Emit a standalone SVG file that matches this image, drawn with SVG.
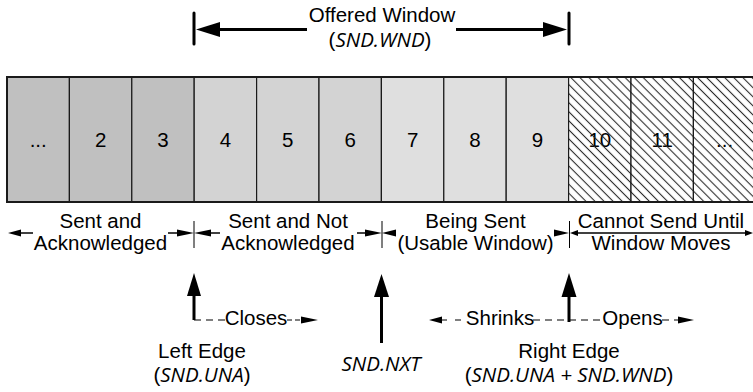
<svg xmlns="http://www.w3.org/2000/svg" width="753" height="392" viewBox="0 0 753 392">
<style>
.lbl{font-family:"Liberation Sans",Arial,sans-serif;font-size:20.5px;fill:#000;text-anchor:middle}
.num{font-family:"Liberation Sans",Arial,sans-serif;font-size:20.5px;fill:#000;text-anchor:middle}
.it{font-family:"Open Sans",sans-serif;font-style:italic}
.cell{stroke:#1a1a1a;stroke-width:1.2}
.dark{fill:#c0c0c0}
.mid{fill:#d3d3d3}
.light{fill:#dfdfdf}
.free{fill:#fff}
.hat{fill:url(#hatch)}
.thin{stroke:#000;stroke-width:1.5;fill:none}
.tick{stroke:#000;stroke-width:1;fill:none}
.thick{stroke:#000;stroke-width:3;fill:none}
.dash{stroke:#000;stroke-width:1.2;stroke-dasharray:7 5;fill:none}
.head{fill:#000;stroke:none}
</style>
<defs>
<pattern id="hatch" width="6.4" height="6.4" patternUnits="userSpaceOnUse" patternTransform="rotate(-45)">
<line x1="3.2" y1="0" x2="3.2" y2="6.4" stroke="#2a2a2a" stroke-width="1.1"/>
</pattern>
</defs>

<rect x="0" y="0" width="753" height="392" fill="#fff"/>

<g id="cell-1"><rect class="cell dark" x="7" y="77" width="62.4" height="125"/><text class="num" x="38.2" y="147">...</text></g>
<g id="cell-2"><rect class="cell dark" x="69.4" y="77" width="62.4" height="125"/><text class="num" x="100.6" y="147">2</text></g>
<g id="cell-3"><rect class="cell dark" x="131.8" y="77" width="62.4" height="125"/><text class="num" x="163" y="147">3</text></g>
<g id="cell-4"><rect class="cell mid" x="194.2" y="77" width="62.4" height="125"/><text class="num" x="225.4" y="147">4</text></g>
<g id="cell-5"><rect class="cell mid" x="256.6" y="77" width="62.4" height="125"/><text class="num" x="287.8" y="147">5</text></g>
<g id="cell-6"><rect class="cell mid" x="319" y="77" width="62.4" height="125"/><text class="num" x="350.2" y="147">6</text></g>
<g id="cell-7"><rect class="cell light" x="381.4" y="77" width="62.4" height="125"/><text class="num" x="412.6" y="147">7</text></g>
<g id="cell-8"><rect class="cell light" x="443.8" y="77" width="62.4" height="125"/><text class="num" x="475" y="147">8</text></g>
<g id="cell-9"><rect class="cell light" x="506.2" y="77" width="62.4" height="125"/><text class="num" x="537.4" y="147">9</text></g>
<g id="cell-10"><rect class="free" x="568.6" y="77" width="62.4" height="125"/><text class="num" x="599.8" y="147">10</text><rect class="cell hat" x="568.6" y="77" width="62.4" height="125"/></g>
<g id="cell-11"><rect class="free" x="631" y="77" width="62.4" height="125"/><text class="num" x="662.2" y="147">11</text><rect class="cell hat" x="631" y="77" width="62.4" height="125"/></g>
<g id="cell-12"><rect class="free" x="693.4" y="77" width="62.4" height="125"/><text class="num" x="724.6" y="147">...</text><rect class="cell hat" x="693.4" y="77" width="62.4" height="125"/></g>
<rect x="7" y="77" width="760" height="125" fill="none" stroke="#1a1a1a" stroke-width="2"/>

<g id="offered-window">
<text class="lbl" x="382" y="22">Offered Window</text>
<text class="lbl" x="380" y="47">(<tspan class="it">SND.WND</tspan>)</text>
</g>

<g id="sent-acked"><text class="lbl" x="100.5" y="228">Sent and</text><text class="lbl" x="100.5" y="250">Acknowledged</text></g>
<g id="sent-not-acked"><text class="lbl" x="288" y="228">Sent and Not</text><text class="lbl" x="288" y="250">Acknowledged</text></g>
<g id="being-sent"><text class="lbl" x="475.5" y="228">Being Sent</text><text class="lbl" x="475.5" y="250">(Usable Window)</text></g>
<g id="cannot-send"><text class="lbl" x="661" y="228">Cannot Send Until</text><text class="lbl" x="661" y="250">Window Moves</text></g>

<g id="left-edge"><text class="lbl" x="202" y="358">Left Edge</text><text class="lbl" x="202" y="382">(<tspan class="it">SND.UNA</tspan>)</text></g>
<g id="snd-nxt"><text class="lbl it" x="381" y="371">SND.NXT</text></g>
<g id="right-edge"><text class="lbl" x="569" y="358">Right Edge</text><text class="lbl" x="569" y="382">(<tspan class="it">SND.UNA + SND.WND</tspan>)</text></g>
<g id="closes"><text class="lbl" x="256" y="325">Closes</text></g>
<g id="shrinks"><text class="lbl" x="500" y="325">Shrinks</text></g>
<g id="opens"><text class="lbl" x="632.5" y="325">Opens</text></g>

<g id="connectors">
<line class="thick" x1="194" y1="13" x2="194" y2="44" stroke-linecap="round"/>
<line class="thick" x1="569" y1="13" x2="569" y2="44" stroke-linecap="round"/>
<line class="thick" x1="218" y1="29.5" x2="307" y2="29.5"/>
<path class="head" d="M196,29.5 L220,22 L220,37 z"/>
<line class="thick" x1="456" y1="29.5" x2="545" y2="29.5"/>
<path class="head" d="M567,29.5 L543,22 L543,37 z"/>

<line class="tick" x1="194" y1="221" x2="194" y2="248"/>
<line class="tick" x1="382" y1="221" x2="382" y2="248"/>
<line class="tick" x1="569.5" y1="221" x2="569.5" y2="248"/>

<path class="head" d="M8,233 L21,229.5 L21,236.5 z"/>
<line class="thin" x1="20" y1="233" x2="33" y2="233"/>
<line class="thin" x1="168" y1="233" x2="179" y2="233"/>
<path class="head" d="M194,233 L177,229.5 L177,236.5 z"/>

<path class="head" d="M194,233 L211,229.5 L211,236.5 z"/>
<line class="thin" x1="210" y1="233" x2="220" y2="233"/>
<line class="thin" x1="357" y1="233" x2="366" y2="233"/>
<path class="head" d="M382,233 L365,229.5 L365,236.5 z"/>

<path class="head" d="M382,233 L396,229.5 L396,236.5 z"/>
<path class="head" d="M569,233 L554,229.5 L554,236.5 z"/>

<path class="head" d="M570,233 L578,230 L578,236 z"/>
<line class="thin" x1="577" y1="233" x2="746" y2="233"/>
<path class="head" d="M753,233 L745,230 L745,236 z"/>

<line class="thick" x1="194" y1="294" x2="194" y2="320"/>
<path class="head" d="M194,273 L187,296 L201,296 z"/>
<line class="thick" x1="381.5" y1="295" x2="381.5" y2="343"/>
<path class="head" d="M381.5,274 L374,297 L389,297 z"/>
<line class="thick" x1="569" y1="295" x2="569" y2="322"/>
<path class="head" d="M569,273 L561.5,297 L576.5,297 z"/>

<path class="dash" d="M194,320 H226"/>
<path class="dash" d="M287,320 H301" style="stroke-dasharray:5 3"/>
<path class="head" d="M318,320 L301,316.5 L301,323.5 z"/>

<path class="head" d="M429,320 L442,316.5 L442,323.5 z"/>
<path class="dash" d="M441,320 H466" style="stroke-dasharray:6 8"/>
<path class="dash" d="M533,320 H603"/>
<path class="dash" d="M662,320 H679"/>
<path class="head" d="M694,320 L678,316.5 L678,323.5 z"/>
</g>
</svg>
